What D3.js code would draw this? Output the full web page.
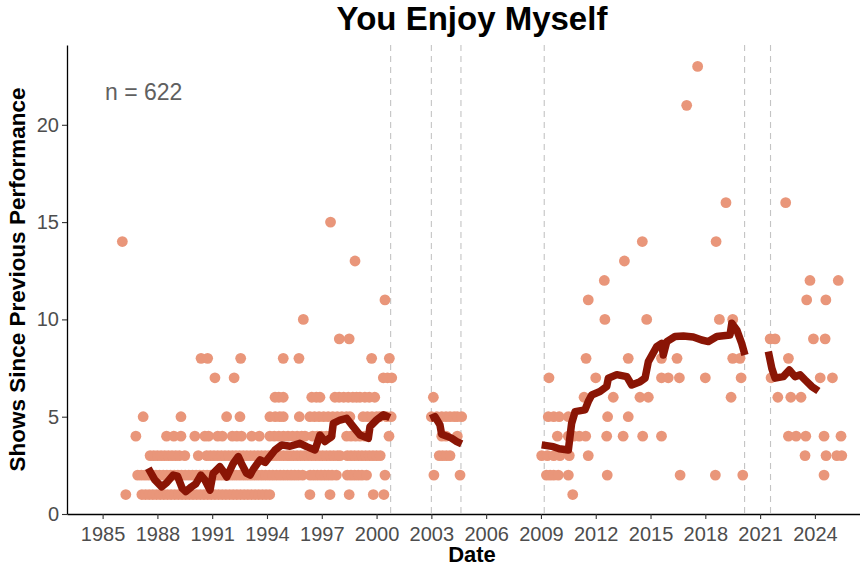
<!DOCTYPE html>
<html>
<head>
<meta charset="utf-8">
<script src="https://cdn.jsdelivr.net/npm/d3@7"></script>
<style>
  html, body { margin: 0; padding: 0; background: #ffffff; }
  svg { display: block; font-family: "Liberation Sans", Arial, sans-serif; }
</style>
</head>
<body>
<svg id="chart" width="860" height="568"></svg>
<script>
// ---------------- data ----------------
const chartTitle = "You Enjoy Myself";
const xTitle = "Date";
const yTitle = "Shows Since Previous Performance";
const countLabel = "n = 622";
const xTickYears = [1985, 1988, 1991, 1994, 1997, 2000, 2003, 2006, 2009, 2012, 2015, 2018, 2021, 2024];
const yTickValues = [0, 5, 10, 15, 20];
const breakDates = [2000.77, 2003.0, 2004.62, 2009.18, 2020.15, 2021.57];

// performance dates (decimal year) grouped by "shows since previous performance"
const gap1 = [1986.27, 1987.15, 1987.35, 1987.55, 1987.75, 1987.95, 1988.15, 1988.35, 1988.55, 1988.75, 1988.95, 1989.15, 1989.35, 1989.55, 1989.75, 1989.95, 1990.15, 1990.35, 1990.55, 1990.75, 1990.95, 1991.15, 1991.35, 1991.55, 1991.75, 1991.95, 1992.15, 1992.35, 1992.55, 1992.75, 1992.95, 1993.15, 1993.35, 1993.55, 1993.75, 1993.95, 1994.15, 1996.35, 1997.45, 1998.5, 1999.82, 2000.4, 2010.74];
const gap2 = [1986.92, 1987.12, 1987.32, 1987.52, 1987.72, 1987.92, 1988.12, 1988.32, 1988.52, 1988.72, 1988.92, 1989.12, 1989.32, 1989.52, 1989.72, 1989.92, 1990.12, 1990.32, 1990.52, 1990.72, 1990.92, 1991.12, 1991.32, 1991.52, 1991.72, 1991.92, 1992.12, 1992.32, 1992.52, 1992.72, 1992.92, 1993.12, 1993.32, 1993.52, 1993.72, 1993.92, 1994.12, 1994.32, 1994.52, 1994.72, 1994.92, 1995.12, 1995.32, 1995.52, 1995.72, 1995.95, 1996.36, 1996.56, 1996.76, 1996.96, 1997.16, 1997.36, 1997.56, 1997.8, 1998.4, 1998.6, 1998.8, 1999.0, 1999.2, 1999.45, 2000.46, 2003.14, 2004.57, 2009.3, 2009.5, 2009.7, 2009.95, 2010.5, 2012.63, 2016.62, 2018.55, 2020.05, 2024.5];
const gap3 = [1987.6, 1987.8, 1988.0, 1988.2, 1988.4, 1988.6, 1988.8, 1989.0, 1989.2, 1989.5, 1990.24, 1990.7, 1990.9, 1991.1, 1991.3, 1991.5, 1991.7, 1991.9, 1992.1, 1992.3, 1992.5, 1992.7, 1992.9, 1993.1, 1993.3, 1993.5, 1993.7, 1993.9, 1994.1, 1994.3, 1994.5, 1994.7, 1994.9, 1995.1, 1995.26, 1995.45, 1995.65, 1995.85, 1996.05, 1996.25, 1996.45, 1996.65, 1996.85, 1997.05, 1997.25, 1997.45, 1997.65, 1997.85, 1998.0, 1998.4, 1998.6, 1998.8, 1999.0, 1999.2, 1999.4, 1999.6, 1999.8, 2000.0, 2000.2, 2003.43, 2003.62, 2003.82, 2004.02, 2009.04, 2009.35, 2009.7, 2010.04, 2010.55, 2011.59, 2023.46, 2024.61, 2025.2, 2025.47];
const gap4 = [1986.82, 1988.5, 1988.9, 1989.29, 1990.05, 1990.6, 1990.8, 1991.3, 1991.55, 1992.1, 1992.35, 1992.6, 1993.16, 1993.58, 1994.16, 1994.4, 1994.65, 1994.9, 1995.15, 1995.4, 1995.65, 1995.9, 1996.08, 1996.5, 1996.75, 1997.0, 1997.25, 1997.45, 1998.36, 1998.6, 1998.85, 1999.09, 1999.35, 2000.68, 2003.57, 2003.8, 2004.42, 2009.9, 2010.5, 2010.8, 2011.1, 2011.45, 2012.6, 2013.5, 2014.57, 2015.6, 2022.55, 2022.97, 2023.5, 2024.5, 2025.43];
const gap5 = [1987.22, 1989.29, 1991.79, 1992.52, 1994.16, 1994.45, 1994.7, 1994.89, 1995.77, 1996.35, 1996.6, 1996.85, 1997.1, 1997.35, 1997.6, 1997.85, 1998.1, 1998.35, 1998.54, 1999.26, 1999.5, 1999.75, 2000.0, 2000.18, 2000.55, 2000.8, 2003.0, 2003.3, 2003.57, 2003.8, 2004.02, 2004.25, 2004.42, 2004.66, 2009.4, 2009.7, 2010.0, 2010.5, 2012.65, 2013.78];
const gap6 = [1994.44, 1994.65, 1994.89, 1996.45, 1996.7, 1996.9, 1997.72, 1997.95, 1998.2, 1998.45, 1998.7, 1998.9, 1999.09, 1999.36, 1999.6, 1999.9, 2003.11, 2011.36, 2012.96, 2014.42, 2014.88, 2019.41, 2021.97, 2022.68, 2023.24];
const gap7 = [1991.15, 1992.2, 2000.37, 2000.6, 2000.83, 2009.44, 2012.0, 2015.6, 2015.97, 2016.58, 2018.0, 2019.96, 2021.6, 2024.29, 2024.96];
const gap8 = [1990.39, 1990.75, 1992.56, 1994.89, 1995.75, 1999.73, 2000.7, 2011.47, 2013.78, 2015.6, 2016.45, 2019.5, 2019.9, 2022.55];
const gap9 = [1997.96, 1998.5, 2021.55, 2021.82, 2023.92, 2024.56];
const gap10 = [1995.99, 2012.5, 2014.79, 2018.77, 2019.5];
const gap11 = [2000.46, 2011.59, 2023.55, 2024.6];
const gap12 = [2012.47, 2023.73, 2025.28];
const gap13 = [1998.82, 2013.57];
const gap14 = [1986.08, 2014.55, 2018.59];
const gap15 = [1997.48];
const gap16 = [2019.13, 2022.4];
const gap21 = [2016.98];
const gap23 = [2017.58];

// rolling average, one array per touring era [date, value]
const trend1987 = [[1987.5,2.35],[1987.86,1.75],[1988.23,1.4],[1988.5,1.6],[1988.87,2.0],[1989.1,1.95],[1989.36,1.32],[1989.55,1.15],[1989.87,1.4],[1990.1,1.55],[1990.38,2.0],[1990.6,1.75],[1990.88,1.23],[1991.05,2.09],[1991.42,2.43],[1991.6,2.2],[1991.8,1.9],[1992.15,2.6],[1992.43,2.95],[1992.6,2.6],[1992.88,2.1],[1993.07,2.0],[1993.25,2.3],[1993.62,2.78],[1993.9,2.65],[1994.44,3.29],[1994.8,3.55],[1995.26,3.48],[1995.8,3.63],[1996.2,3.45],[1996.63,3.29],[1996.9,4.06],[1997.17,3.72],[1997.54,3.98],[1997.63,4.66],[1998.0,4.83],[1998.36,4.92],[1998.72,4.49],[1999.09,4.06],[1999.55,3.89],[1999.64,4.49],[2000.0,4.83],[2000.37,5.1],[2000.73,4.95]];
const trend2003 = [[2002.95,4.9],[2003.2,5.0],[2003.47,4.58],[2003.56,4.1],[2003.85,4.0],[2004.1,3.9],[2004.39,3.72],[2004.66,3.6]];
const trend2009 = [[2009.04,3.55],[2009.68,3.46],[2010.0,3.35],[2010.5,3.29],[2010.68,4.66],[2010.87,5.26],[2011.41,5.35],[2011.59,5.78],[2011.78,6.12],[2012.23,6.29],[2012.6,6.55],[2012.69,6.98],[2013.15,7.16],[2013.7,7.06],[2013.97,6.63],[2014.43,6.8],[2014.7,6.98],[2014.88,7.83],[2015.34,8.6],[2015.61,8.77],[2015.7,8.17],[2015.89,8.86],[2016.34,9.12],[2016.8,9.15],[2017.34,9.1],[2017.8,8.94],[2018.17,8.86],[2018.63,9.12],[2019.35,9.2],[2019.45,9.8],[2019.72,9.46],[2019.99,8.77],[2020.17,8.17]];
const trend2021 = [[2021.45,8.35],[2021.64,7.49],[2021.82,6.98],[2022.27,7.06],[2022.6,7.4],[2022.91,7.06],[2023.19,7.15],[2023.46,6.89],[2023.83,6.55],[2024.19,6.32]];

// ---------------- build ----------------
const gapGroups = [[1,gap1],[2,gap2],[3,gap3],[4,gap4],[5,gap5],[6,gap6],[7,gap7],[8,gap8],[9,gap9],[10,gap10],[11,gap11],[12,gap12],[13,gap13],[14,gap14],[15,gap15],[16,gap16],[21,gap21],[23,gap23]];
const points = [];
gapGroups.forEach(([g, dates]) => dates.forEach(d => points.push({date: d, gap: g})));
const trends = [trend1987, trend2003, trend2009, trend2021];

const svg = d3.select("#chart");
const plotLeft = 67, plotRight = 877, plotTop = 45, plotBottom = 514;

const x = d3.scaleLinear().domain([1983.05, 2027.4]).range([plotLeft, plotRight]);
const y = d3.scaleLinear().domain([0, 24.1]).range([plotBottom, plotTop]);

const pointColor = "#E9967A";
const lineColor = "#8A1505";
const tickText = "#4D4D4D";

// break lines
svg.append("g").selectAll("line").data(breakDates).join("line")
  .attr("x1", d => x(d)).attr("x2", d => x(d))
  .attr("y1", plotTop).attr("y2", plotBottom)
  .attr("stroke", "#C4C4C4").attr("stroke-width", 1.1)
  .attr("stroke-dasharray", "6,5");

// points
svg.append("g").selectAll("circle").data(points).join("circle")
  .attr("cx", d => x(d.date)).attr("cy", d => y(d.gap))
  .attr("r", 5.4).attr("fill", pointColor);

// rolling average
const trendLine = d3.line().x(d => x(d[0])).y(d => y(d[1]));
svg.append("g").selectAll("path").data(trends).join("path")
  .attr("d", trendLine).attr("fill", "none")
  .attr("stroke", lineColor).attr("stroke-width", 7.5)
  .attr("stroke-linejoin", "round").attr("stroke-linecap", "butt");

// axes
const xAxis = d3.axisBottom(x).tickValues(xTickYears).tickFormat(d3.format("d")).tickSize(5).tickSizeOuter(0);
const gx = svg.append("g").attr("transform", `translate(0,${plotBottom})`).call(xAxis);
gx.select(".domain").attr("stroke", "#000").attr("stroke-width", 1.3);
gx.selectAll(".tick line").attr("stroke", "#333").attr("stroke-width", 1.1);
gx.selectAll(".tick text").attr("fill", tickText).attr("font-size", 20)
  .attr("font-family", "Liberation Sans, Arial, sans-serif").attr("dy", "0.95em");

const yAxis = d3.axisLeft(y).tickValues(yTickValues).tickSize(5).tickSizeOuter(0);
const gy = svg.append("g").attr("transform", `translate(${plotLeft},0)`).call(yAxis);
gy.select(".domain").attr("stroke", "#000").attr("stroke-width", 1.3);
gy.selectAll(".tick line").attr("stroke", "#333").attr("stroke-width", 1.1);
gy.selectAll(".tick text").attr("fill", tickText).attr("font-size", 20)
  .attr("font-family", "Liberation Sans, Arial, sans-serif").attr("x", -8);

// titles
svg.append("text").attr("x", 472).attr("y", 30).attr("text-anchor", "middle")
  .attr("font-size", 33).attr("font-weight", "bold").attr("fill", "#000").text(chartTitle);
svg.append("text").attr("x", 472).attr("y", 562).attr("text-anchor", "middle")
  .attr("font-size", 22).attr("font-weight", "bold").attr("fill", "#000").text(xTitle);
svg.append("text").attr("transform", `translate(25,${(plotTop + plotBottom) / 2}) rotate(-90)`)
  .attr("text-anchor", "middle")
  .attr("font-size", 22.5).attr("font-weight", "bold").attr("fill", "#000").text(yTitle);

svg.append("text").attr("x", 105).attr("y", 100)
  .attr("font-size", 23).attr("fill", "#606060").text(countLabel);
</script>
</body>
</html>
